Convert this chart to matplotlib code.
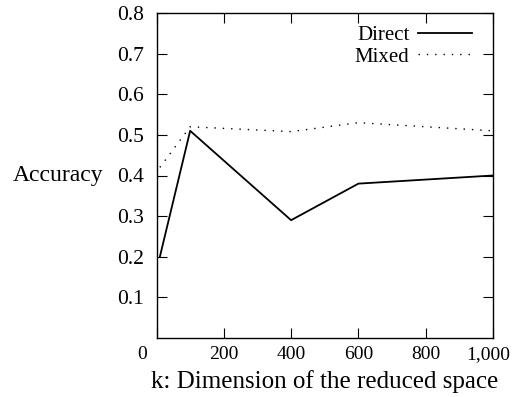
import matplotlib.pyplot as plt
import matplotlib.transforms as mtransforms

plt.rcParams['font.family'] = ['Liberation Serif', 'DejaVu Serif']
plt.rcParams['font.size'] = 16

k = [10, 100, 400, 600, 1000]
direct = [0.20, 0.51, 0.29, 0.38, 0.40]
mixed = [0.42, 0.52, 0.508, 0.53, 0.51]

fig = plt.figure(figsize=(5.13, 3.97), dpi=100)
ax = fig.add_axes([156.5 / 513, 1 - 338 / 397, (493 - 156.5) / 513, (338 - 13) / 397])

ax.plot(k, direct, color='black', lw=1.3, label='Direct')
ax.plot(k, mixed, color='black', lw=1.0, linestyle=(0, (1, 5)), label='Mixed')

ax.set_xlim(0, 1000)
ax.set_ylim(0, 0.8)
ax.set_xticks([0, 200, 400, 600, 800, 1000])
ax.set_xticklabels(['0', '200', '400', '600', '800', '1,000'])
ax.set_yticks([0.1, 0.2, 0.3, 0.4, 0.5, 0.6, 0.7, 0.8])
ax.set_yticklabels(['0.1', '0.2', '0.3', '0.4', '0.5', '0.6', '0.7', '0.8'])
ax.tick_params(direction='in', top=True, right=True, length=7, width=0.8)
ax.tick_params(axis='y', pad=9, labelsize=15.5)
ax.tick_params(axis='x', pad=6, labelsize=14)
for s in ax.spines.values():
    s.set_linewidth(1.0)

# end labels sit a bit left of their ticks in the original
xlabels = ax.get_xticklabels()
for lbl, dx in [(xlabels[0], -14), (xlabels[-1], -5)]:
    lbl.set_transform(lbl.get_transform() + mtransforms.ScaledTranslation(dx / 100, 0, fig.dpi_scale_trans))

ax.set_xlabel('k: Dimension of the reduced space', fontsize=18, labelpad=5)
ax.set_ylabel('Accuracy', fontsize=17, rotation=0, ha='right', va='center', labelpad=10)

ax.legend(loc='upper right', bbox_to_anchor=(0.975, 1.0), frameon=False, markerfirst=False,
          handlelength=2.6, borderaxespad=0.2, labelspacing=0.1, handletextpad=0.4, fontsize=15)

fig.savefig('out.png', dpi=100)
